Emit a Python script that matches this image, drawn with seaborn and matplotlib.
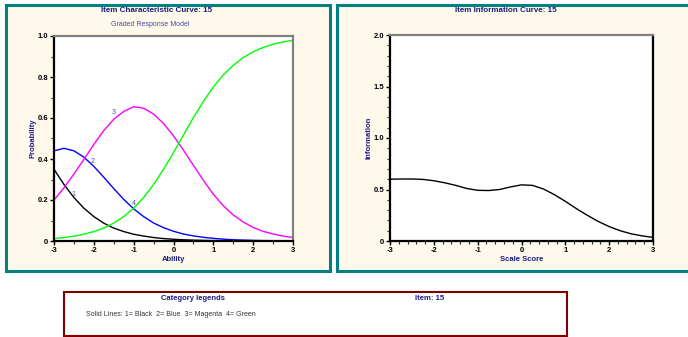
import numpy as np
import pandas as pd
import seaborn as sns
import matplotlib.pyplot as plt
from matplotlib.patches import Rectangle
from matplotlib.ticker import MultipleLocator

# values
theta = [-3, -2.75, -2.5, -2.25, -2, -1.75, -1.5, -1.25, -1, -0.75, -0.5, -0.25, 0,
         0.25, 0.5, 0.75, 1, 1.25, 1.5, 1.75, 2, 2.25, 2.5, 2.75, 3]
cat1 = [0.35, 0.276, 0.212, 0.16, 0.119, 0.087, 0.063, 0.046, 0.033, 0.024, 0.017, 0.012, 0.0085,
        0.006, 0.004, 0.003, 0.002, 0.0015, 0.001, 0.001, 0.0005, 0.0004, 0.0003, 0.0002, 0.0002]
cat2 = [0.44, 0.452, 0.44, 0.409, 0.364, 0.311, 0.256, 0.203, 0.157, 0.119, 0.088, 0.065, 0.0475,
        0.034, 0.025, 0.018, 0.013, 0.009, 0.006, 0.0045, 0.003, 0.002, 0.0015, 0.001, 0.0007]
cat3 = [0.20, 0.259, 0.327, 0.398, 0.471, 0.539, 0.594, 0.632, 0.655, 0.648, 0.619, 0.573, 0.513,
        0.443, 0.369, 0.296, 0.228, 0.172, 0.127, 0.093, 0.066, 0.047, 0.034, 0.024, 0.017]
cat4 = [0.012, 0.017, 0.0235, 0.033, 0.046, 0.0635, 0.087, 0.119, 0.160, 0.212, 0.276, 0.350, 0.431,
        0.517, 0.602, 0.681, 0.751, 0.810, 0.857, 0.895, 0.923, 0.944, 0.960, 0.971, 0.979]
info = [0.60, 0.602, 0.602, 0.598, 0.585, 0.565, 0.54, 0.51, 0.492, 0.49, 0.50, 0.525, 0.545,
        0.54, 0.505, 0.45, 0.385, 0.315, 0.25, 0.19, 0.14, 0.10, 0.07, 0.05, 0.035]
categories = ['1', '2', '3', '4']
cat_colors = ['#000000', '#0000FF', '#FF00FF', '#00FF00']
label_pos = [(-2.57, 0.22), (-2.08, 0.38), (-1.54, 0.62), (-1.04, 0.175)]

navy = '#1A1A80'
slate = '#4B4BA0'
cream = '#FFF9EC'
teal = '#008080'

sns.set_style("ticks")
plt.rcParams['font.family'] = ['Liberation Sans', 'DejaVu Sans']
plt.rcParams['axes.unicode_minus'] = False

W, H = 688, 337
fig = plt.figure(figsize=(W / 100, H / 100), dpi=100)
fig.patch.set_facecolor('white')


def box(x0, y0, x1, y1):
    # pixel box (top-left origin) -> figure fraction rect
    return [x0 / W, 1 - y1 / H, (x1 - x0) / W, (y1 - y0) / H]


def frame(x0, y0, x1, y1, face, edge, lw):
    l, b, w, h = box(x0, y0, x1, y1)
    fig.add_artist(Rectangle((l, b), w, h, transform=fig.transFigure,
                             facecolor=face, edgecolor=edge, linewidth=lw, zorder=0))


frame(5.5, 4.5, 330, 270.5, cream, teal, 2.2)
frame(337, 4.5, 700, 270.5, cream, teal, 2.2)
frame(63.5, 292, 567, 336, 'white', '#800000', 1.5)


def style_axes(ax, right_color):
    for side in ['left', 'bottom']:
        ax.spines[side].set_color('black')
        ax.spines[side].set_linewidth(1.6)
    ax.spines['top'].set_color('#808080')
    ax.spines['top'].set_linewidth(1.6)
    ax.spines['right'].set_color(right_color)
    ax.spines['right'].set_linewidth(1.6)
    ax.set_facecolor('white')
    ax.tick_params(which='major', length=3, width=1, pad=1, labelsize=5.5, colors='black')
    ax.tick_params(which='minor', length=2, width=0.8)
    for lab in ax.get_xticklabels() + ax.get_yticklabels():
        lab.set_fontweight('bold')


# left: item characteristic curves
ax1 = fig.add_axes(box(54, 36, 293, 241))
n = len(theta)
df = pd.DataFrame({
    'Ability': theta * 4,
    'Probability': cat1 + cat2 + cat3 + cat4,
    'Category': sum([[c] * n for c in categories], []),
})
sns.lineplot(data=df, x='Ability', y='Probability', hue='Category', palette=cat_colors,
             linewidth=1.0, legend=False, ax=ax1)
ax1.set_xlim(-3, 3)
ax1.set_ylim(0, 1)
ax1.set_xticks(range(-3, 4))
ax1.set_yticks([0, 0.2, 0.4, 0.6, 0.8, 1.0])
ax1.set_yticklabels(['0', '0.2', '0.4', '0.6', '0.8', '1.0'])
ax1.xaxis.set_minor_locator(MultipleLocator(0.5))
ax1.yaxis.set_minor_locator(MultipleLocator(0.1))
style_axes(ax1, '#808080')
ax1.set_xlabel('Ability', fontsize=5.5, fontweight='bold', color=navy, labelpad=2)
ax1.set_ylabel('Probability', fontsize=5.5, fontweight='bold', color=navy, labelpad=1)
for c, (x, y) in zip(categories, label_pos):
    ax1.text(x, y, c, fontsize=5, color=slate)

# right: item information curve
ax2 = fig.add_axes(box(390, 35, 653, 241))
sns.lineplot(x=theta, y=info, color='black', linewidth=1.0, ax=ax2)
ax2.set_xlim(-3, 3)
ax2.set_ylim(0, 2)
ax2.set_xticks(range(-3, 4))
ax2.set_yticks([0, 0.5, 1.0, 1.5, 2.0])
ax2.set_yticklabels(['0', '0.5', '1.0', '1.5', '2.0'])
ax2.xaxis.set_minor_locator(MultipleLocator(0.2))
ax2.yaxis.set_minor_locator(MultipleLocator(0.1))
style_axes(ax2, 'black')
ax2.set_xlabel('Scale Score', fontsize=5.5, fontweight='bold', color=navy, labelpad=2)
ax2.set_ylabel('Information', fontsize=5.5, fontweight='bold', color=navy, labelpad=1)

# titles and legend box texts
fig.text(157 / W, 1 - 11 / H, 'Item Characteristic Curve: 15', ha='center', va='center',
         fontsize=5.8, fontweight='bold', color=navy)
fig.text(150 / W, 1 - 24 / H, 'Graded Response Model', ha='center', va='center',
         fontsize=5, color=slate)
fig.text(506 / W, 1 - 11 / H, 'Item Information Curve: 15', ha='center', va='center',
         fontsize=5.8, fontweight='bold', color=navy)
fig.text(193 / W, 1 - 299 / H, 'Category legends', ha='center', va='center',
         fontsize=5.5, fontweight='bold', color=navy)
fig.text(430 / W, 1 - 299 / H, 'Item: 15', ha='center', va='center',
         fontsize=5.5, fontweight='bold', color=navy)
fig.text(86 / W, 1 - 315 / H, 'Solid Lines: 1= Black  2= Blue  3= Magenta  4= Green',
         ha='left', va='center', fontsize=5, color='#333333')

fig.savefig('out.png', dpi=100)
